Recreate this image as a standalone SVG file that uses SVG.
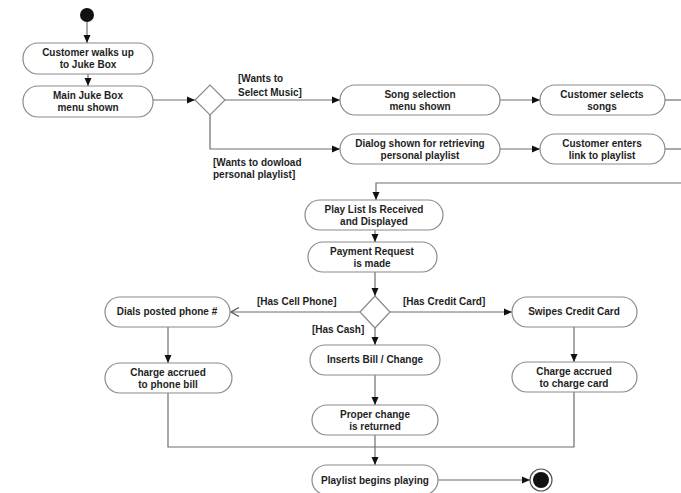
<svg xmlns="http://www.w3.org/2000/svg" width="681" height="493" viewBox="0 0 681 493">
  <style>
    .node rect { fill: #ffffff; stroke: #8a8a8a; stroke-width: 1.2; }
    .node text, .label { font-family: "Liberation Sans", Arial, sans-serif; font-size: 10px; font-weight: bold; fill: #1e1e1e; }
    .node text { text-anchor: middle; }
    .edge { fill: none; stroke: #6e6e6e; stroke-width: 1.2; }
    .arrow { marker-end: url(#head); }
    .diamond { fill: #ffffff; stroke: #8a8a8a; stroke-width: 1.2; }
  </style>
  <defs>
    <marker id="head" viewBox="0 0 8 8" refX="8" refY="4" markerWidth="8" markerHeight="8" markerUnits="userSpaceOnUse" orient="auto">
      <path d="M0,0.5 L8,4 L0,7.5 Z" fill="#111"/>
    </marker>
    <marker id="open" viewBox="0 0 10 10" refX="9" refY="5" markerWidth="10" markerHeight="10" markerUnits="userSpaceOnUse" orient="auto">
      <path d="M1,0.5 L9,5 L1,9.5" fill="none" stroke="#555" stroke-width="1.2"/>
    </marker>
  </defs>
  <rect width="681" height="493" fill="#ffffff"/>

  <!-- connectors -->
  <g id="connectors">
    <path class="edge arrow" d="M87,22 V43"/>
    <path class="edge arrow" d="M88,74 V86"/>
    <path class="edge arrow" d="M153,100 H195"/>
    <path class="edge arrow" d="M225,100 H340"/>
    <path class="edge arrow" d="M210,115 V149 H340"/>
    <path class="edge arrow" d="M500,100 H540"/>
    <path class="edge arrow" d="M500,149 H540"/>
    <path class="edge" d="M665,100 H681"/>
    <path class="edge" d="M665,149 H681"/>
    <path class="edge arrow" d="M681,183 H376 V200"/>
    <path class="edge arrow" d="M375,230 V242"/>
    <path class="edge arrow" d="M375,272 V296"/>
    <path class="edge" d="M360,312 H231" marker-end="url(#open)"/>
    <path class="edge arrow" d="M390,312 H512"/>
    <path class="edge arrow" d="M375,328 V345"/>
    <path class="edge arrow" d="M375,375 V405"/>
    <path class="edge arrow" d="M168,327 V363"/>
    <path class="edge arrow" d="M574,327 V362"/>
    <path class="edge" d="M168,393 V447 H574 V392"/>
    <path class="edge arrow" d="M375,435 V465"/>
    <path class="edge arrow" d="M438,480 H530"/>
  </g>

  <!-- start / end -->
  <g id="start"><circle cx="87" cy="15" r="7" fill="#111"/></g>
  <g id="end">
    <circle cx="541" cy="480" r="11" fill="#fff" stroke="#555" stroke-width="1.2"/>
    <circle cx="541" cy="480" r="8" fill="#111"/>
  </g>

  <!-- decisions -->
  <g id="decision1"><path class="diamond" d="M195,100 L210,85 L225,100 L210,115 Z"/></g>
  <g id="decision2"><path class="diamond" d="M360,312 L375,296 L390,312 L375,328 Z"/></g>

  <!-- guard labels -->
  <g id="guards">
    <text class="label" x="238" y="82">[Wants to</text>
    <text class="label" x="238" y="96">Select Music]</text>
    <text class="label" x="213" y="166">[Wants to dowload</text>
    <text class="label" x="213" y="178">personal playlist]</text>
    <text class="label" x="257" y="305">[Has Cell Phone]</text>
    <text class="label" x="403" y="305">[Has Credit Card]</text>
    <text class="label" x="312" y="333">[Has Cash]</text>
  </g>

  <!-- activities -->
  <g id="walks-up" class="node">
    <rect x="23" y="43" width="130" height="31" rx="15"/>
    <text x="88" y="56">Customer walks up</text>
    <text x="88" y="68">to Juke Box</text>
  </g>
  <g id="main-menu" class="node">
    <rect x="23" y="86" width="130" height="31" rx="15"/>
    <text x="88" y="99">Main Juke Box</text>
    <text x="88" y="111">menu shown</text>
  </g>
  <g id="song-menu" class="node">
    <rect x="340" y="85" width="160" height="30" rx="15"/>
    <text x="420" y="98">Song selection</text>
    <text x="420" y="110">menu shown</text>
  </g>
  <g id="selects-songs" class="node">
    <rect x="540" y="85" width="125" height="30" rx="15"/>
    <text x="602" y="98">Customer selects</text>
    <text x="602" y="110">songs</text>
  </g>
  <g id="dialog" class="node">
    <rect x="340" y="134" width="160" height="30" rx="15"/>
    <text x="420" y="147">Dialog shown for retrieving</text>
    <text x="420" y="159">personal playlist</text>
  </g>
  <g id="enters-link" class="node">
    <rect x="540" y="134" width="125" height="30" rx="15"/>
    <text x="602" y="147">Customer enters</text>
    <text x="602" y="159">link to playlist</text>
  </g>
  <g id="playlist-received" class="node">
    <rect x="305" y="200" width="138" height="30" rx="15"/>
    <text x="374" y="213">Play List Is Received</text>
    <text x="374" y="225">and Displayed</text>
  </g>
  <g id="payment-request" class="node">
    <rect x="308" y="242" width="129" height="30" rx="15"/>
    <text x="372" y="255">Payment Request</text>
    <text x="372" y="267">is made</text>
  </g>
  <g id="dials-phone" class="node">
    <rect x="105" y="297" width="125" height="30" rx="15"/>
    <text x="167" y="315">Dials posted phone #</text>
  </g>
  <g id="phone-bill" class="node">
    <rect x="105" y="363" width="127" height="30" rx="15"/>
    <text x="168" y="376">Charge accrued</text>
    <text x="168" y="388">to phone bill</text>
  </g>
  <g id="swipes-card" class="node">
    <rect x="512" y="297" width="125" height="30" rx="15"/>
    <text x="574" y="315">Swipes Credit Card</text>
  </g>
  <g id="charge-card" class="node">
    <rect x="512" y="362" width="125" height="30" rx="15"/>
    <text x="574" y="375">Charge accrued</text>
    <text x="574" y="387">to charge card</text>
  </g>
  <g id="inserts-bill" class="node">
    <rect x="310" y="345" width="130" height="30" rx="15"/>
    <text x="375" y="363">Inserts Bill / Change</text>
  </g>
  <g id="proper-change" class="node">
    <rect x="312" y="405" width="126" height="30" rx="15"/>
    <text x="375" y="418">Proper change</text>
    <text x="375" y="430">is returned</text>
  </g>
  <g id="playlist-playing" class="node">
    <rect x="312" y="465" width="126" height="30" rx="15"/>
    <text x="375" y="484">Playlist begins playing</text>
  </g>
</svg>
